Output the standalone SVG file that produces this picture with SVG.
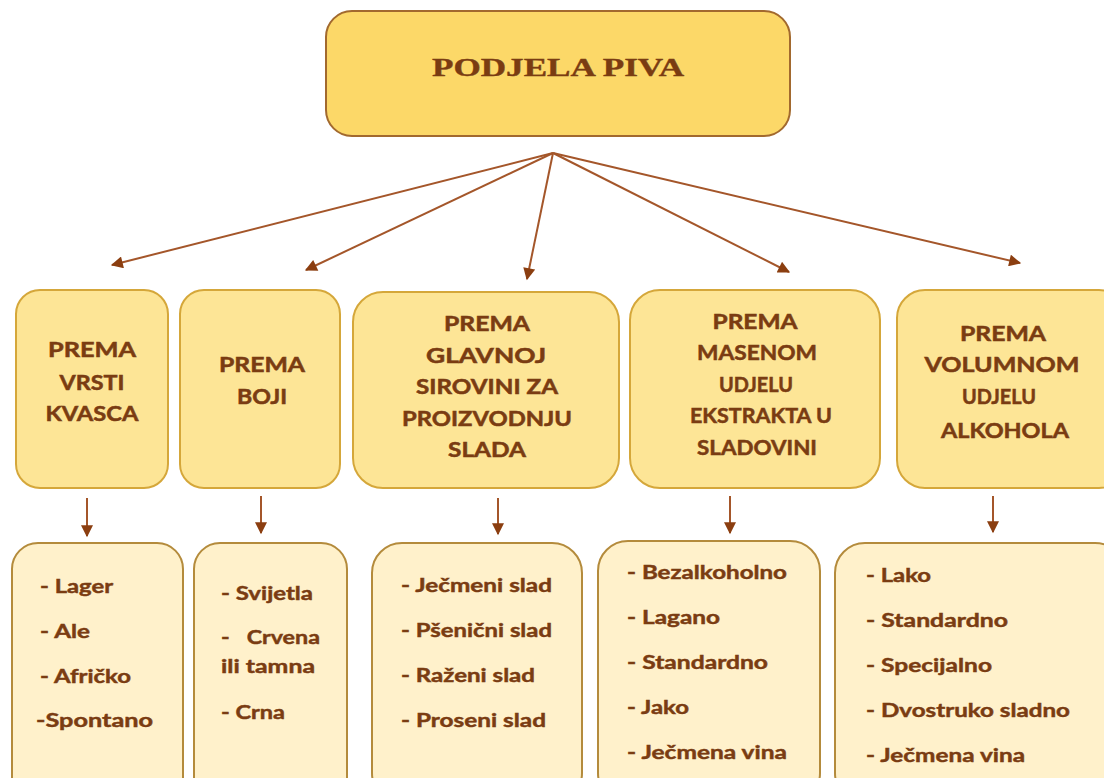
<svg xmlns="http://www.w3.org/2000/svg" width="1104" height="778" viewBox="0 0 1104 778">
<style>
.top{fill:#FCD868;stroke:#A2692E;stroke-width:2}
.cat{fill:#FDE596;stroke:#D5A73A;stroke-width:2}
.item{fill:#FFF1CB;stroke:#B48B3C;stroke-width:2}
.title{font-family:"Liberation Serif",serif;font-weight:bold;font-size:26px;fill:#7A3C12;stroke:#7A3C12;stroke-width:0.4}
.ct{font-family:Lato,"Open Sans",sans-serif;font-weight:bold;font-size:20px;fill:#7A3C12;stroke:#7A3C12;stroke-width:0.5;text-anchor:middle}
.it{font-family:Lato,"Open Sans",sans-serif;font-weight:bold;font-size:19px;fill:#7A3C12;stroke:#7A3C12;stroke-width:0.45}
.conn{stroke:#A4562A;stroke-width:2;fill:none;marker-end:url(#ah)}
</style>
<defs>
<marker id="ah" viewBox="0 0 10 10" refX="9" refY="5" markerWidth="13" markerHeight="12" markerUnits="userSpaceOnUse" orient="auto">
<path d="M0,0 L10,5 L0,10 Z" fill="#8B3E10"/>
</marker>
</defs>
<rect width="1104" height="778" fill="#FFFFFF"/>
<g id="connectors">
<line class="conn" x1="553" y1="153" x2="112" y2="265"/>
<line class="conn" x1="553" y1="153" x2="306" y2="270"/>
<line class="conn" x1="553" y1="153" x2="527" y2="279"/>
<line class="conn" x1="553" y1="153" x2="789" y2="272"/>
<line class="conn" x1="553" y1="153" x2="1020" y2="263"/>
<line class="conn" x1="87" y1="498" x2="87" y2="536"/>
<line class="conn" x1="261" y1="496" x2="261" y2="533"/>
<line class="conn" x1="498" y1="498" x2="498" y2="534"/>
<line class="conn" x1="730" y1="496" x2="730" y2="533"/>
<line class="conn" x1="993" y1="496" x2="993" y2="532"/>
</g>
<g id="root">
<rect class="top" x="326" y="11" width="464" height="125" rx="26"/>
<text class="title" x="432" y="76" textLength="252" lengthAdjust="spacingAndGlyphs">PODJELA PIVA</text>
</g>
<g id="cat1">
<rect class="cat" x="16" y="290" width="152" height="198" rx="24"/>
<text class="ct" x="92" y="357" textLength="88" lengthAdjust="spacingAndGlyphs">PREMA</text>
<text class="ct" x="92" y="390" textLength="65" lengthAdjust="spacingAndGlyphs">VRSTI</text>
<text class="ct" x="92" y="421" textLength="93" lengthAdjust="spacingAndGlyphs">KVASCA</text>
</g>
<g id="cat2">
<rect class="cat" x="180" y="290" width="160" height="198" rx="24"/>
<text class="ct" x="262" y="372" textLength="86" lengthAdjust="spacingAndGlyphs">PREMA</text>
<text class="ct" x="262" y="404" textLength="50" lengthAdjust="spacingAndGlyphs">BOJI</text>
</g>
<g id="cat3">
<rect class="cat" x="353" y="292" width="266" height="196" rx="30"/>
<text class="ct" x="487" y="331" textLength="86" lengthAdjust="spacingAndGlyphs">PREMA</text>
<text class="ct" x="486" y="363" textLength="120" lengthAdjust="spacingAndGlyphs">GLAVNOJ</text>
<text class="ct" x="487" y="394" textLength="142" lengthAdjust="spacingAndGlyphs">SIROVINI ZA</text>
<text class="ct" x="487" y="426" textLength="170" lengthAdjust="spacingAndGlyphs">PROIZVODNJU</text>
<text class="ct" x="487" y="457" textLength="78" lengthAdjust="spacingAndGlyphs">SLADA</text>
</g>
<g id="cat4">
<rect class="cat" x="630" y="290" width="250" height="198" rx="30"/>
<text class="ct" x="755" y="329" textLength="85" lengthAdjust="spacingAndGlyphs">PREMA</text>
<text class="ct" x="757" y="360" textLength="120" lengthAdjust="spacingAndGlyphs">MASENOM</text>
<text class="ct" x="756" y="392" textLength="74" lengthAdjust="spacingAndGlyphs">UDJELU</text>
<text class="ct" x="761" y="423" textLength="142" lengthAdjust="spacingAndGlyphs">EKSTRAKTA U</text>
<text class="ct" x="757" y="455" textLength="120" lengthAdjust="spacingAndGlyphs">SLADOVINI</text>
</g>
<g id="cat5">
<rect class="cat" x="897" y="290" width="230" height="198" rx="28"/>
<text class="ct" x="1003" y="341" textLength="86" lengthAdjust="spacingAndGlyphs">PREMA</text>
<text class="ct" x="1002" y="372" textLength="155" lengthAdjust="spacingAndGlyphs">VOLUMNOM</text>
<text class="ct" x="999" y="404" textLength="74" lengthAdjust="spacingAndGlyphs">UDJELU</text>
<text class="ct" x="1005" y="438" textLength="128" lengthAdjust="spacingAndGlyphs">ALKOHOLA</text>
</g>
<g id="list1">
<rect class="item" x="12" y="543" width="171" height="260" rx="26"/>
<text class="it" x="40" y="593" textLength="73" lengthAdjust="spacingAndGlyphs">- Lager</text>
<text class="it" x="40" y="638" textLength="50" lengthAdjust="spacingAndGlyphs">- Ale</text>
<text class="it" x="40" y="683" textLength="91" lengthAdjust="spacingAndGlyphs">- Afričko</text>
<text class="it" x="36" y="727" textLength="117" lengthAdjust="spacingAndGlyphs">-Spontano</text>
</g>
<g id="list2">
<rect class="item" x="194" y="543" width="153" height="260" rx="26"/>
<text class="it" x="221" y="600" textLength="92" lengthAdjust="spacingAndGlyphs">- Svijetla</text>
<text class="it" x="221" y="644" xml:space="preserve" textLength="99" lengthAdjust="spacingAndGlyphs">-   Crvena</text>
<text class="it" x="221" y="673" textLength="94" lengthAdjust="spacingAndGlyphs">ili tamna</text>
<text class="it" x="221" y="719" textLength="64" lengthAdjust="spacingAndGlyphs">- Crna</text>
</g>
<g id="list3">
<rect class="item" x="372" y="543" width="210" height="260" rx="30"/>
<text class="it" x="401" y="592" textLength="151" lengthAdjust="spacingAndGlyphs">- Ječmeni slad</text>
<text class="it" x="401" y="637" textLength="151" lengthAdjust="spacingAndGlyphs">- Pšenični slad</text>
<text class="it" x="401" y="682" textLength="134" lengthAdjust="spacingAndGlyphs">- Raženi slad</text>
<text class="it" x="401" y="727" textLength="145" lengthAdjust="spacingAndGlyphs">- Proseni slad</text>
</g>
<g id="list4">
<rect class="item" x="598" y="541" width="222" height="262" rx="30"/>
<text class="it" x="627" y="579" textLength="160" lengthAdjust="spacingAndGlyphs">- Bezalkoholno</text>
<text class="it" x="627" y="624" textLength="93" lengthAdjust="spacingAndGlyphs">- Lagano</text>
<text class="it" x="627" y="669" textLength="141" lengthAdjust="spacingAndGlyphs">- Standardno</text>
<text class="it" x="627" y="714" textLength="62" lengthAdjust="spacingAndGlyphs">- Jako</text>
<text class="it" x="627" y="759" textLength="160" lengthAdjust="spacingAndGlyphs">- Ječmena vina</text>
</g>
<g id="list5">
<rect class="item" x="835" y="543" width="290" height="260" rx="30"/>
<text class="it" x="866" y="582" textLength="65" lengthAdjust="spacingAndGlyphs">- Lako</text>
<text class="it" x="866" y="627" textLength="142" lengthAdjust="spacingAndGlyphs">- Standardno</text>
<text class="it" x="866" y="672" textLength="126" lengthAdjust="spacingAndGlyphs">- Specijalno</text>
<text class="it" x="866" y="717" textLength="204" lengthAdjust="spacingAndGlyphs">- Dvostruko sladno</text>
<text class="it" x="866" y="762" textLength="159" lengthAdjust="spacingAndGlyphs">- Ječmena vina</text>
</g>
</svg>
